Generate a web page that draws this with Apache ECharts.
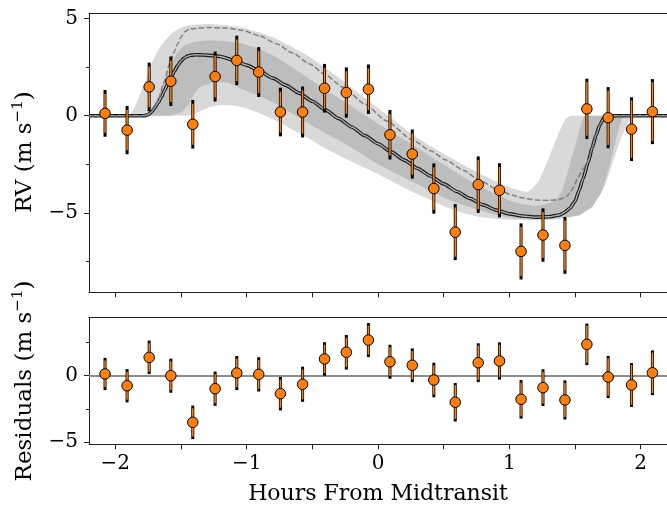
<!DOCTYPE html>
<html>
<head>
<meta charset="utf-8">
<script src="https://cdn.jsdelivr.net/npm/echarts@6/dist/echarts.min.js"></script>
<style>
  html, body { margin: 0; padding: 0; background: #fff; }
  #main { width: 667px; height: 506px; }
</style>
</head>
<body>
<div id="main"></div>
<script>
// Observation times (hours from midtransit) and measured radial velocities (m/s)
const times = [-2.078, -1.91, -1.742, -1.577, -1.41, -1.24, -1.075, -0.908, -0.743, -0.574,
  -0.407, -0.241, -0.073, 0.091, 0.261, 0.425, 0.588, 0.763, 0.925, 1.089,
  1.256, 1.423, 1.59, 1.752, 1.93, 2.089];
const rv = [0.12, -0.74, 1.48, 1.77, -0.44, 2.01, 2.84, 2.24, 0.19, 0.19,
  1.41, 1.19, 1.36, -0.98, -1.97, -3.74, -5.98, -3.54, -3.83, -6.97,
  -6.13, -6.66, 0.35, -0.10, -0.69, 0.21];
// Total uncertainty (with jitter) and instrumental uncertainty
const errTotal = [1.20, 1.24, 1.25, 1.27, 1.25, 1.28, 1.27, 1.28, 1.25, 1.31,
  1.25, 1.29, 1.27, 1.27, 1.26, 1.29, 1.44, 1.45, 1.39, 1.44,
  1.37, 1.46, 1.55, 1.57, 1.64, 1.67];
const errInst = [1.00, 1.04, 1.05, 1.07, 1.05, 1.08, 1.07, 1.08, 1.05, 1.11,
  1.05, 1.09, 1.07, 1.07, 1.06, 1.09, 1.26, 1.27, 1.20, 1.26,
  1.18, 1.28, 1.38, 1.40, 1.48, 1.51];
// Residuals after subtracting the best-fit model
const resid = [0.10, -0.78, 1.34, -0.03, -3.51, -1.00, 0.17, 0.07, -1.37, -0.67,
  1.22, 1.72, 2.63, 1.01, 0.75, -0.35, -2.01, 0.94, 1.07, -1.79,
  -0.92, -1.84, 2.31, -0.13, -0.72, 0.19];

// Best-fit Rossiter-McLaughlin model curve
const modelCurve = [[-2.2, 0], [-1.78, 0], [-1.75, 0.05], [-1.72, 0.22], [-1.70, 0.40], [-1.675, 0.65],
  [-1.65, 0.95], [-1.625, 1.30], [-1.60, 1.63], [-1.575, 1.97], [-1.55, 2.29], [-1.525, 2.57],
  [-1.50, 2.80], [-1.475, 2.96], [-1.45, 3.06], [-1.42, 3.11], [-1.38, 3.13], [-1.33, 3.12],
  [-1.25, 3.08], [-1.2, 3.04], [-1.1, 2.86], [-1.0, 2.60], [-0.9, 2.29], [-0.8, 1.93],
  [-0.7, 1.56], [-0.6, 1.16], [-0.5, 0.74], [-0.4, 0.30], [-0.3, -0.14], [-0.2, -0.58],
  [-0.1, -1.02], [0.0, -1.44], [0.1, -1.86], [0.2, -2.28], [0.3, -2.70], [0.4, -3.10],
  [0.5, -3.50], [0.6, -3.89], [0.7, -4.25], [0.8, -4.58], [0.9, -4.85], [1.0, -5.04],
  [1.1, -5.15], [1.2, -5.21], [1.3, -5.19], [1.38, -5.10], [1.42, -4.97], [1.46, -4.75],
  [1.5, -4.40], [1.53, -3.85], [1.56, -3.25], [1.6, -2.40], [1.63, -1.65], [1.66, -1.00],
  [1.69, -0.45], [1.72, -0.12], [1.75, -0.01], [1.78, 0], [2.2, 0]];

// Aligned-orbit comparison model (dashed)
const alignedCurve = [[-2.2, 0], [-1.77, 0], [-1.73, 0.15], [-1.70, 0.45], [-1.673, 0.81], [-1.63, 1.70],
  [-1.584, 2.70], [-1.55, 3.30], [-1.524, 3.70], [-1.50, 4.02], [-1.473, 4.30], [-1.44, 4.43],
  [-1.42, 4.47], [-1.3, 4.53], [-1.15, 4.50], [-1.027, 4.38], [-0.9, 4.10], [-0.774, 3.70],
  [-0.65, 3.22], [-0.52, 2.66], [-0.4, 2.10], [-0.267, 1.46], [-0.1, 0.60], [0.062, -0.26],
  [0.264, -1.25], [0.4, -1.80], [0.518, -2.28], [0.65, -2.80], [0.771, -3.31], [0.9, -3.75],
  [1.024, -4.09], [1.1, -4.22], [1.2, -4.33], [1.3, -4.35], [1.38, -4.30], [1.43, -4.18],
  [1.46, -3.98], [1.49, -3.65], [1.52, -3.20], [1.56, -2.75], [1.6, -2.30], [1.63, -1.65],
  [1.66, -1.00], [1.69, -0.45], [1.72, -0.12], [1.75, -0.01], [1.78, 0], [2.2, 0]];

// Posterior credible bands: outer (2 sigma) and inner (1 sigma)
const outerUpper = [[-2.2, 0], [-1.89, 0], [-1.85, 0.45], [-1.80, 1.29], [-1.76, 2.00], [-1.726, 2.66],
  [-1.69, 3.17], [-1.65, 3.61], [-1.61, 3.95], [-1.574, 4.21], [-1.52, 4.45], [-1.473, 4.59],
  [-1.42, 4.66], [-1.37, 4.69], [-1.28, 4.71], [-1.15, 4.65], [-1.027, 4.52], [-0.9, 4.27],
  [-0.774, 3.95], [-0.65, 3.52], [-0.52, 3.01], [-0.4, 2.45], [-0.267, 1.80], [-0.14, 1.12],
  [-0.01, 0.45], [0.1, -0.12], [0.264, -0.99], [0.4, -1.55], [0.518, -2.03], [0.65, -2.52],
  [0.771, -2.97], [0.9, -3.38], [1.024, -3.74], [1.1, -3.88], [1.14, -3.92], [1.176, -3.74],
  [1.227, -3.31], [1.278, -2.54], [1.328, -1.68], [1.379, -0.82], [1.43, -0.14], [1.468, 0], [2.2, 0]];
const outerLower = [[-2.2, 0], [-1.45, 0], [-1.40, 0.08], [-1.346, 0.26], [-1.28, 0.45], [-1.23, 0.52],
  [-1.18, 0.55], [-1.10, 0.52], [-1.027, 0.43], [-0.9, 0.13], [-0.774, -0.26], [-0.65, -0.72],
  [-0.52, -1.20], [-0.4, -1.68], [-0.267, -2.14], [-0.14, -2.56], [-0.008, -2.97], [0.13, -3.45],
  [0.264, -3.92], [0.4, -4.33], [0.518, -4.69], [0.65, -5.00], [0.771, -5.20], [0.9, -5.30],
  [1.024, -5.35], [1.2, -5.38], [1.35, -5.33], [1.48, -5.20], [1.582, -4.86], [1.64, -4.50],
  [1.683, -4.17], [1.734, -3.48], [1.784, -2.45], [1.835, -1.42], [1.886, -0.57], [1.924, -0.13],
  [1.95, 0], [2.2, 0]];
const innerUpper = [[-2.2, 0], [-1.77, 0], [-1.74, 0.15], [-1.70, 0.60], [-1.66, 1.20], [-1.625, 1.80],
  [-1.585, 2.45], [-1.549, 3.01], [-1.51, 3.38], [-1.473, 3.61], [-1.42, 3.75], [-1.372, 3.82],
  [-1.28, 3.87], [-1.15, 3.82], [-1.027, 3.70], [-0.9, 3.42], [-0.774, 3.01], [-0.65, 2.48],
  [-0.52, 1.89], [-0.4, 1.33], [-0.267, 0.77], [-0.14, 0.20], [-0.008, -0.38], [0.13, -0.95],
  [0.264, -1.50], [0.4, -2.08], [0.518, -2.60], [0.65, -3.15], [0.771, -3.62], [0.9, -4.05],
  [1.024, -4.40], [1.1, -4.55], [1.2, -4.62], [1.28, -4.55], [1.328, -4.43], [1.37, -4.20],
  [1.404, -3.83], [1.43, -3.25], [1.455, -2.63], [1.48, -2.00], [1.506, -1.42], [1.525, -0.95],
  [1.544, -0.48], [1.57, 0], [2.2, 0]];
const innerLower = [[-2.2, 0], [-1.58, 0], [-1.50, 0.15], [-1.44, 0.60], [-1.40, 1.10], [-1.372, 1.38],
  [-1.33, 1.55], [-1.245, 1.72], [-1.15, 1.70], [-1.027, 1.35], [-0.9, 1.00], [-0.774, 0.60],
  [-0.65, 0.10], [-0.52, -0.43], [-0.4, -0.90], [-0.267, -1.37], [-0.14, -1.90], [-0.008, -2.45],
  [0.13, -2.95], [0.264, -3.40], [0.4, -3.85], [0.518, -4.26], [0.65, -4.60], [0.771, -4.86],
  [0.9, -5.10], [1.024, -5.25], [1.2, -5.30], [1.35, -5.28], [1.45, -5.20], [1.531, -5.12],
  [1.632, -4.69], [1.708, -3.83], [1.76, -2.63], [1.81, -1.25], [1.848, -0.31], [1.866, 0], [2.2, 0]];

// Axis ranges and tick positions
const xRange = [-2.2, 2.2];
const xMajor = [-2, -1, 0, 1, 2];
const xMinor = [-1.5, -0.5, 0.5, 1.5];
const rvRange = [-9.07, 5.26];
const rvMajor = [-5, 0, 5];
const rvMinor = [-7.5, -2.5, 2.5];
const resRange = [-5.15, 4.30];
const resMajor = [-5, 0];
const resMinor = [-2.5, 2.5];

const FONT = 'DejaVu Serif';
const INK = '#1f1f1f';
const ORANGE = '#ff7f0e';

const fmt = v => (v < 0 ? '\u2212' + Math.abs(v) : String(v));

function xAxisDef(grid, position, ticks, len, labels, showLine) {
  return {
    type: 'value', gridIndex: grid, position: position,
    min: xRange[0], max: xRange[1],
    axisLine: { show: showLine, onZero: false, lineStyle: { color: INK, width: 1 } },
    axisTick: ticks ? { show: true, length: len, customValues: ticks, lineStyle: { color: INK, width: 1 } } : { show: false },
    axisLabel: labels ? { show: true, customValues: labels, formatter: fmt, fontFamily: FONT, fontSize: 20, color: '#000', margin: 9 } : { show: false },
    splitLine: { show: false }
  };
}
function yAxisDef(grid, position, range, ticks, len, labels, showLine) {
  return {
    type: 'value', gridIndex: grid, position: position,
    min: range[0], max: range[1],
    axisLine: { show: showLine, onZero: false, lineStyle: { color: INK, width: 1 } },
    axisTick: ticks ? { show: true, length: len, customValues: ticks, lineStyle: { color: INK, width: 1 } } : { show: false },
    axisLabel: labels ? { show: true, customValues: labels, formatter: fmt, fontFamily: FONT, fontSize: 20, color: '#000', margin: 11 } : { show: false },
    splitLine: { show: false }
  };
}

function band(points, fill) {
  const upper = points[0], lower = points[1];
  return function (params, api) {
    if (params.dataIndex !== 0) return null;
    const poly = upper.concat(lower.slice().reverse()).map(p => api.coord(p));
    return { type: 'polygon', shape: { points: poly }, style: { fill: fill } };
  };
}

function errorBars(params, api) {
  const x = api.value(0), y = api.value(1), eo = api.value(2), ei = api.value(3);
  const a = api.coord([x, y + eo]), b = api.coord([x, y - eo]);
  const c = api.coord([x, y + ei]), d = api.coord([x, y - ei]);
  return {
    type: 'group',
    children: [
      { type: 'line', shape: { x1: a[0], y1: a[1], x2: b[0], y2: b[1] }, style: { stroke: '#000', lineWidth: 3 } },
      { type: 'line', shape: { x1: c[0], y1: c[1], x2: d[0], y2: d[1] }, style: { stroke: ORANGE, lineWidth: 1.5 } }
    ]
  };
}

const rvRows = times.map((t, i) => [t, rv[i], errTotal[i], errInst[i]]);
const resRows = times.map((t, i) => [t, resid[i], errTotal[i], errInst[i]]);

const chart = echarts.init(document.getElementById('main'), null, { renderer: 'canvas' });
chart.setOption({
  animation: false,
  backgroundColor: '#fff',
  grid: [
    { left: 89, top: 13.3, width: 579, height: 279 },
    { left: 89, top: 317.7, width: 579, height: 126.6 }
  ],
  xAxis: [
    xAxisDef(0, 'bottom', xMajor, 5, null, true),
    xAxisDef(0, 'bottom', xMinor, 5, null, false),
    xAxisDef(0, 'top', null, 0, null, true),
    xAxisDef(1, 'bottom', xMajor, 5, xMajor, true),
    xAxisDef(1, 'bottom', xMinor, 5, null, false),
    xAxisDef(1, 'top', null, 0, null, true)
  ],
  yAxis: [
    yAxisDef(0, 'left', rvRange, rvMajor, 5, rvMajor, true),
    yAxisDef(0, 'left', rvRange, rvMinor, 3, null, false),
    yAxisDef(0, 'right', rvRange, null, 0, null, true),
    yAxisDef(1, 'left', resRange, resMajor, 5, resMajor, true),
    yAxisDef(1, 'left', resRange, resMinor, 3, null, false),
    yAxisDef(1, 'right', resRange, null, 0, null, true)
  ],
  graphic: [
    {
      type: 'text', x: 378, y: 494, z: 10,
      style: { text: 'Hours From Midtransit', fontFamily: FONT, fontSize: 22, fill: '#000', align: 'center', verticalAlign: 'middle' }
    },
    {
      type: 'text', x: 25, y: 152, rotation: Math.PI / 2, z: 10,
      style: {
        text: '{a|RV (m s}{b|\u22121}{a|)}', align: 'center', verticalAlign: 'middle',
        rich: {
          a: { fontFamily: FONT, fontSize: 23, fill: '#000', lineHeight: 28 },
          b: { fontFamily: FONT, fontSize: 15, fill: '#000', lineHeight: 28, verticalAlign: 'top' }
        }
      }
    },
    {
      type: 'text', x: 25, y: 381, rotation: Math.PI / 2, z: 10,
      style: {
        text: '{a|Residuals (m s}{b|\u22121}{a|)}', align: 'center', verticalAlign: 'middle',
        rich: {
          a: { fontFamily: FONT, fontSize: 23, fill: '#000', lineHeight: 28 },
          b: { fontFamily: FONT, fontSize: 15, fill: '#000', lineHeight: 28, verticalAlign: 'top' }
        }
      }
    }
  ],
  series: [
    {
      type: 'custom', name: 'outer band', xAxisIndex: 0, yAxisIndex: 0, silent: true, z: 1,
      renderItem: band([outerUpper, outerLower], '#d9d9d9'),
      data: outerUpper, encode: { x: 0, y: 1 }
    },
    {
      type: 'custom', name: 'inner band', xAxisIndex: 0, yAxisIndex: 0, silent: true, z: 2,
      renderItem: band([innerUpper, innerLower], '#bdbdbd'),
      data: innerUpper, encode: { x: 0, y: 1 }
    },
    {
      type: 'line', name: 'model outline', xAxisIndex: 0, yAxisIndex: 0, z: 3, silent: true,
      data: modelCurve, showSymbol: false, smooth: 0.2, smoothMonotone: 'x',
      lineStyle: { color: '#1a1a1a', width: 3.6 }
    },
    {
      type: 'line', name: 'model', xAxisIndex: 0, yAxisIndex: 0, z: 4, silent: true,
      data: modelCurve, showSymbol: false, smooth: 0.2, smoothMonotone: 'x',
      lineStyle: { color: '#b4b4b4', width: 1.3 }
    },
    {
      type: 'line', name: 'aligned', xAxisIndex: 0, yAxisIndex: 0, z: 5, silent: true,
      data: alignedCurve, showSymbol: false, smooth: 0.2, smoothMonotone: 'x',
      lineStyle: { color: '#7f7f7f', width: 1.5, type: [5.5, 2.4] }
    },
    {
      type: 'custom', name: 'rv errors', xAxisIndex: 0, yAxisIndex: 0, z: 6, silent: true,
      renderItem: errorBars, data: rvRows, encode: { x: 0, y: 1 }
    },
    {
      type: 'scatter', name: 'rv', xAxisIndex: 0, yAxisIndex: 0, z: 7, silent: true,
      data: rvRows.map(r => [r[0], r[1]]), symbolSize: 10.5,
      itemStyle: { color: ORANGE, borderColor: '#000', borderWidth: 1, opacity: 1 }
    },
    {
      type: 'custom', name: 'residual errors', xAxisIndex: 3, yAxisIndex: 3, z: 6, silent: true,
      renderItem: errorBars, data: resRows, encode: { x: 0, y: 1 }
    },
    {
      type: 'scatter', name: 'residuals', xAxisIndex: 3, yAxisIndex: 3, z: 7, silent: true,
      data: resRows.map(r => [r[0], r[1]]), symbolSize: 10.5,
      itemStyle: { color: ORANGE, borderColor: '#000', borderWidth: 1, opacity: 1 },
      markLine: {
        silent: true, symbol: 'none', z: 2,
        label: { show: false },
        lineStyle: { color: '#8c8c8c', width: 2, type: 'solid' },
        data: [{ yAxis: 0 }]
      }
    }
  ]
});
</script>
</body>
</html>
